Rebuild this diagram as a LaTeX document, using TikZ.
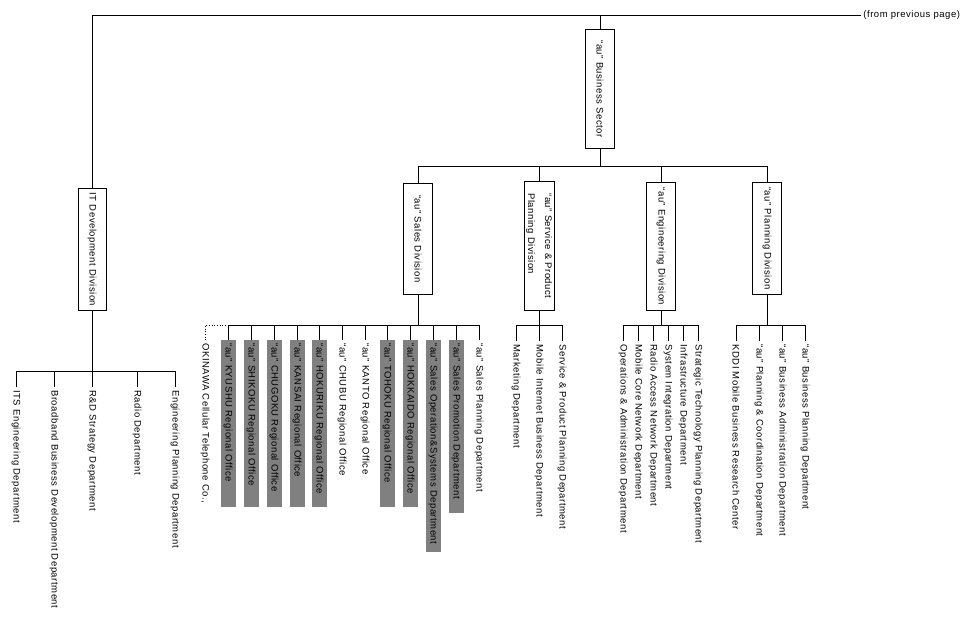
\documentclass[tikz,border=0pt]{standalone}
\usepackage{fontspec}
\setmainfont[LetterSpace=5.5]{Liberation Sans}

\begin{document}
\begin{tikzpicture}[x=1pt, y=-1pt, line width=0.9pt,
		every node/.style={font=\fontsize{9.5}{17}\selectfont, inner sep=0pt},
		unit/.style={draw, rotate=-90, anchor=west, minimum height=29pt, align=left},
		dept/.style={rotate=-90, anchor=west, inner xsep=3pt},
		office/.style={dept, fill=gray, minimum height=15pt, text width=#1}]
		
		\useasboundingbox (0,0) rectangle (976,622);
		
		% from previous page
		\node[anchor=west, inner xsep=2pt] (prev) at (861,15) {(from previous page)};
		
		% business sector
		\node[unit, minimum width=119pt] (sector) at (600,29) {“au”\ Business Sector};
		\draw (sector.west) -- (sector.west |- prev.west);
		
		% divisions
		\node[unit, minimum width=122pt, minimum height=28pt] (itdiv) at (92,188) {IT Development Division};
		\node[unit, minimum width=111pt] (sales) at (418,183) {“au”\ Sales Division};
		\node[unit, minimum width=129pt, minimum height=30pt] (service) at (539,181) {“au”\ Service \& Product\\Planning Division};
		\node[unit, minimum width=128pt] (eng) at (661,182) {“au”\ Engineering Division};
		\node[unit, minimum width=112pt] (plan) at (767,182) {“au”\ Planning Division};
		
		% bus points
		\coordinate (sectorbus) at (600,166);
		\coordinate (itdivbus) at (92,371);
		\coordinate (salesbus) at (418,325);
		\coordinate (servicebus) at (539,325);
		\coordinate (engbus) at (661,325);
		\coordinate (planbus) at (767,325);
		
		% top line and sector links
		\draw (itdiv.west) |- (prev.west);
		\draw (sector.east) -- (sectorbus);
		\foreach \d in {sales,service,eng,plan}{
			\draw (\d.west) |- (sectorbus);
		}
		\foreach \d in {itdiv,sales,service,eng,plan}{
			\draw (\d.east) -- (\d bus);
		}
		
		% IT development departments
		\foreach \n/\x/\t in {its/16/ITS Engineering Department,
				bband/54/Broadband Business Development Department,
				rnd/92/R\&D Strategy Department,
				radio/137/Radio Department,
				engplan/175/Engineering Planning Department}{
			\node[dept] (\n) at (\x,387) {\t};
			\draw (\n.west) |- (itdivbus);
		}
		
		% sales offices (grey)
		\foreach \n/\x/\w/\t in {kyushu/228/161pt/KYUSHU Regional Office,
				shikoku/251/161pt/SHIKOKU Regional Office,
				chugoku/274/161pt/CHUGOKU Regional Office,
				kansai/297/161pt/KANSAI Regional Office,
				hokuriku/319/161pt/HOKURIKU Regional Office,
				tohoku/387/161pt/TOHOKU Regional Office,
				hokkaido/410/161pt/HOKKAIDO Regional Office,
				salesops/433/206pt/Sales Operation\&Systems Department,
				salesprom/456/167pt/Sales Promotion Department}{
			\node[office=\w] (\n) at (\x,340) {“au”\ \t};
			\draw (\n.west) |- (salesbus);
		}
		
		% sales offices (plain)
		\foreach \n/\x/\t in {chubu/342/CHUBU Regional Office,
				kanto/365/KANTO Regional Office,
				salesplan/479/Sales Planning Department}{
			\node[dept] (\n) at (\x,340) {“au”\ \t};
			\draw (\n.west) |- (salesbus);
		}
		
		% okinawa
		\node[dept] (okinawa) at (205,340) {OKINAWA Cellular Telephone Co.,};
		\draw[dotted, line width=0.7pt] (okinawa.west) |- (kyushu.west |- salesbus);
		
		% service & product departments
		\foreach \n/\x/\t in {marketing/516/Marketing Department,
				mobinet/539/Mobile Internet Business Department,
				spplan/562/Service \&\ Product Planning Department}{
			\node[dept] (\n) at (\x,341) {\t};
			\draw (\n.west) |- (servicebus);
		}
		
		% engineering departments
		\foreach \n/\x/\t in {opsadmin/623/Operations \& Administration Department,
				corenet/638/Mobile Core Network Department,
				radionet/653/Radio Access Network Department,
				sysint/668/System Integration Department,
				infra/683/Infrastructure Department,
				stratech/698/Strategic Technology Planning Department}{
			\node[dept] (\n) at (\x,341) {\t};
			\draw (\n.west) |- (engbus);
		}
		
		% planning departments
		\foreach \n/\x/\t in {research/736/KDDI Mobile Business Research Center,
				plancoord/759/“au”\ Planning \& Coordination Department,
				busadmin/782/“au”\ Business Administration Department,
				busplan/805/“au”\ Business Planning Department}{
			\node[dept] (\n) at (\x,341) {\t};
			\draw (\n.west) |- (planbus);
		}
		
	\end{tikzpicture}
\end{document}
